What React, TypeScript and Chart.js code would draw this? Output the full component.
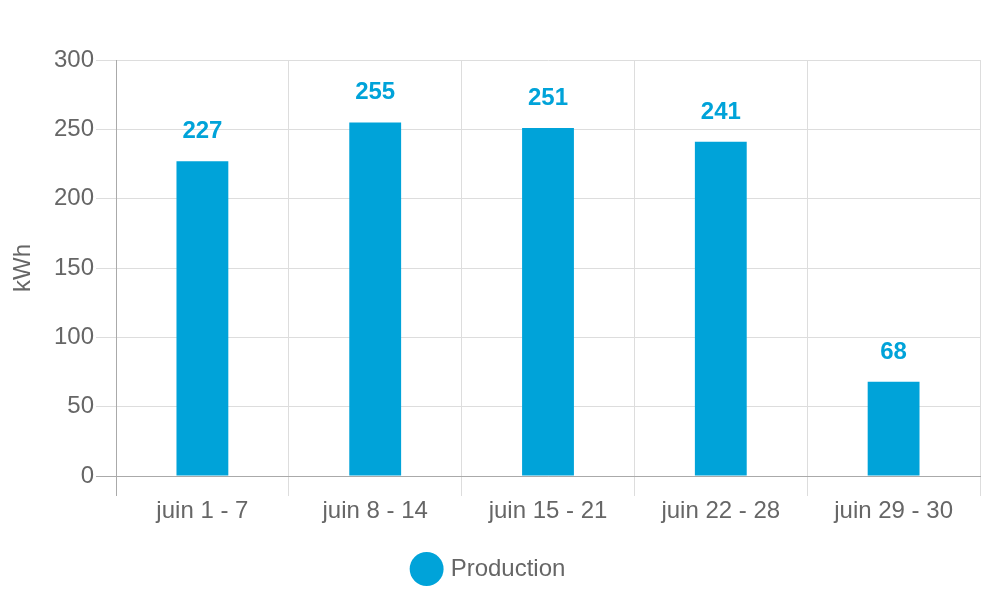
import React, { useEffect, useRef } from "react";
import { Chart, registerables } from "chart.js";

Chart.register(...registerables);

const categories = ["juin 1 - 7", "juin 8 - 14", "juin 15 - 21", "juin 22 - 28", "juin 29 - 30"];
const production = [227, 255, 251, 241, 68];
const seriesLabel = "Production";
const yTitle = "kWh";

const BLUE = "#00a3d9";
const TEXT = "#666666";
const FONT = "'Liberation Sans', Arial, sans-serif";

const valueLabels = {
  id: "valueLabels",
  afterDatasetsDraw(chart: any) {
    const ctx = chart.ctx;
    const meta = chart.getDatasetMeta(0);
    const data = chart.data.datasets[0].data;
    ctx.save();
    ctx.font = `bold 24px ${FONT}`;
    ctx.fillStyle = BLUE;
    ctx.textAlign = "center";
    ctx.textBaseline = "alphabetic";
    meta.data.forEach((el: any, i: number) => {
      ctx.fillText(String(data[i]), el.x, el.y - 23);
    });
    ctx.restore();
  },
};

export default function App() {
  const ref = useRef<HTMLCanvasElement | null>(null);
  useEffect(() => {
    document.body.style.margin = "0";
    const chart = new Chart(ref.current as HTMLCanvasElement, {
      type: "bar",
      data: {
        labels: categories,
        datasets: [
          {
            label: seriesLabel,
            data: production,
            backgroundColor: BLUE,
            borderWidth: 0,
            barPercentage: 0.3,
            categoryPercentage: 1,
          },
        ],
      },
      plugins: [valueLabels],
      options: {
        animation: false,
        responsive: true,
        maintainAspectRatio: false,
        layout: { padding: { top: 60, right: 20, bottom: 9, left: 0 } },
        plugins: {
          tooltip: { enabled: false },
          legend: {
            position: "bottom",
            labels: {
              usePointStyle: true,
              pointStyle: "circle",
              color: TEXT,
              font: { family: FONT, size: 24 },
              padding: 10,
            },
          },
        },
        scales: {
          x: {
            grid: {
              color: (c: any) => (c.index === 0 ? "#aaaaaa" : "#dddddd"),
              tickLength: 20,
              offset: true,
            },
            border: { color: "#aaaaaa" },
            ticks: { color: TEXT, font: { family: FONT, size: 24 }, padding: 1 },
            afterFit: (s: any) => {
              s.height = 71;
            },
          },
          y: {
            min: 0,
            max: 300,
            ticks: { stepSize: 50, color: TEXT, font: { family: FONT, size: 24 }, padding: 2 },
            grid: {
              color: (c: any) => (c.index === 0 ? "#aaaaaa" : "#dddddd"),
              tickLength: 20,
            },
            border: { color: "#aaaaaa" },
            title: {
              display: true,
              text: yTitle,
              color: TEXT,
              font: { family: FONT, size: 24 },
              padding: { top: 9, bottom: 4 },
            },
            afterFit: (s: any) => {
              s.width = 116;
            },
          },
        },
      },
    });
    return () => chart.destroy();
  }, []);
  return (
    <div style={{ width: 1000, height: 600, position: "relative" }}>
      <canvas ref={ref} />
    </div>
  );
}
